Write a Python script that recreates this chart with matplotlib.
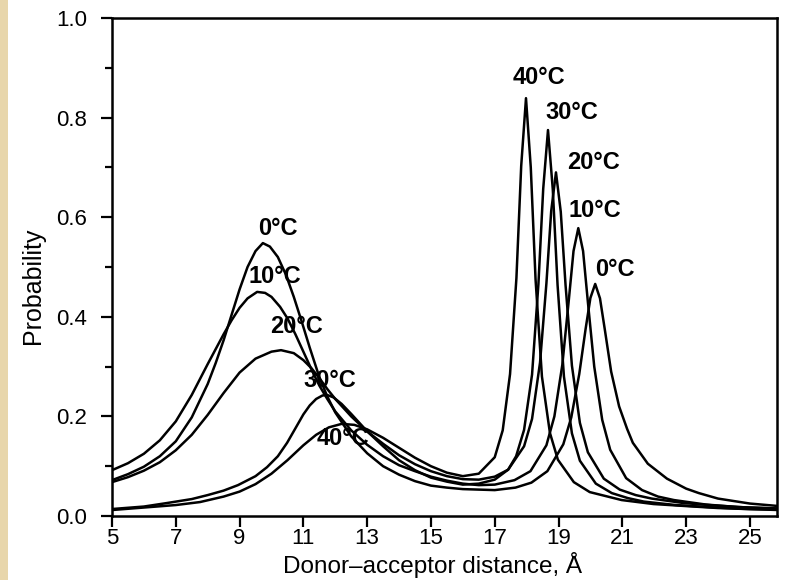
import matplotlib
matplotlib.use("Agg")
import matplotlib.pyplot as plt
from matplotlib.patches import Rectangle
from matplotlib.ticker import MultipleLocator, FormatStrFormatter

plt.rcParams['font.family'] = ['Liberation Sans', 'DejaVu Sans']

# distance distributions (x in Å, probability), one per temperature
x_0 = [5, 5.5, 6, 6.5, 7, 7.5, 8, 8.25, 8.5, 8.75, 9, 9.25, 9.5, 9.73, 9.95,
       10.2, 10.45, 10.7, 10.95, 11.2, 11.5, 11.75, 12, 12.5, 13, 13.5, 14,
       14.5, 15, 15.5, 16, 16.5, 17, 17.65, 18.15, 18.65, 19.15, 19.4, 19.65,
       19.85, 20.0, 20.15, 20.3, 20.45, 20.65, 20.9, 21.15, 21.33, 21.8, 22.4,
       23.0, 23.4, 24, 25, 25.9]
p_0 = [0.072, 0.084, 0.099, 0.120, 0.150, 0.198, 0.265, 0.307, 0.353, 0.404,
       0.455, 0.500, 0.532, 0.548, 0.541, 0.520, 0.485, 0.440, 0.390, 0.338,
       0.279, 0.240, 0.208, 0.160, 0.126, 0.100, 0.083, 0.070, 0.061, 0.057,
       0.054, 0.053, 0.052, 0.057, 0.067, 0.090, 0.144, 0.198, 0.285, 0.376,
       0.438, 0.466, 0.437, 0.375, 0.290, 0.220, 0.175, 0.147, 0.105, 0.075,
       0.055, 0.046, 0.035, 0.025, 0.020]

x_10 = [5, 5.5, 6, 6.5, 7, 7.5, 8, 8.5, 8.75, 9, 9.25, 9.55, 9.8, 10, 10.27,
        10.5, 10.75, 11, 11.25, 11.5, 11.75, 12, 12.5, 13, 13.5, 14, 14.5, 15,
        15.5, 16, 16.5, 17, 17.62, 18.12, 18.62, 18.87, 19.12, 19.32, 19.47,
        19.62, 19.77, 19.92, 20.12, 20.37, 20.62, 21.12, 21.62, 22.12, 22.62,
        23.62, 24.62, 25.9]
p_10 = [0.092, 0.106, 0.125, 0.152, 0.190, 0.243, 0.305, 0.365, 0.393, 0.418,
        0.437, 0.450, 0.448, 0.440, 0.420, 0.397, 0.365, 0.330, 0.295, 0.262,
        0.235, 0.210, 0.172, 0.143, 0.120, 0.102, 0.090, 0.079, 0.071, 0.065,
        0.062, 0.063, 0.072, 0.090, 0.142, 0.200, 0.304, 0.432, 0.532, 0.578,
        0.532, 0.430, 0.300, 0.193, 0.133, 0.076, 0.052, 0.039, 0.032, 0.023,
        0.018, 0.015]

x_20 = [5, 5.5, 6, 6.5, 7, 7.5, 8, 8.5, 9, 9.5, 10, 10.3, 10.7, 11.0, 11.25,
        11.5, 11.75, 12, 12.5, 13, 13.5, 14, 14.5, 15, 15.5, 16, 16.5, 17,
        17.42, 17.92, 18.17, 18.42, 18.62, 18.77, 18.92, 19.07, 19.22, 19.42,
        19.67, 19.92, 20.42, 20.92, 21.42, 21.92, 22.92, 23.92, 24.92, 25.9]
p_20 = [0.068, 0.078, 0.091, 0.108, 0.132, 0.163, 0.203, 0.247, 0.288, 0.316,
        0.330, 0.333, 0.327, 0.313, 0.297, 0.277, 0.255, 0.235, 0.200, 0.170,
        0.145, 0.122, 0.104, 0.090, 0.080, 0.074, 0.073, 0.079, 0.093, 0.140,
        0.195, 0.308, 0.467, 0.612, 0.690, 0.611, 0.464, 0.302, 0.187, 0.128,
        0.075, 0.053, 0.042, 0.035, 0.026, 0.021, 0.017, 0.015]

x_30 = [5, 6, 6.72, 7.5, 8, 8.5, 8.95, 9.5, 9.86, 10.2, 10.49, 10.75, 11.0,
        11.2, 11.4, 11.6, 11.75, 11.95, 12.2, 12.5, 13, 13.5, 14, 14.5, 15,
        15.5, 16, 16.5, 17, 17.42, 17.67, 17.92, 18.17, 18.37, 18.52, 18.67,
        18.82, 18.97, 19.17, 19.42, 19.67, 20.17, 20.67, 21.17, 21.67, 22.67,
        23.67, 24.67, 25.9]
p_30 = [0.014, 0.019, 0.026, 0.034, 0.042, 0.051, 0.062, 0.080, 0.098, 0.120,
        0.147, 0.176, 0.204, 0.222, 0.235, 0.242, 0.243, 0.238, 0.225, 0.205,
        0.170, 0.140, 0.112, 0.092, 0.077, 0.069, 0.063, 0.065, 0.073, 0.093,
        0.120, 0.173, 0.284, 0.466, 0.657, 0.775, 0.656, 0.464, 0.280, 0.166,
        0.111, 0.065, 0.046, 0.036, 0.029, 0.022, 0.018, 0.0145, 0.012]

x_40 = [5, 6, 7, 7.76, 8.5, 9, 9.5, 10, 10.5, 11, 11.4, 11.8, 12.2, 12.6, 13,
        13.5, 14, 14.5, 15, 15.5, 16, 16.5, 17, 17.25, 17.48, 17.68, 17.83,
        17.98, 18.13, 18.28, 18.48, 18.73, 18.98, 19.48, 19.98, 20.98, 21.98,
        22.98, 24, 25, 25.9]
p_40 = [0.012, 0.017, 0.022, 0.028, 0.039, 0.049, 0.064, 0.085, 0.112, 0.142,
        0.163, 0.178, 0.185, 0.183, 0.174, 0.157, 0.137, 0.117, 0.100, 0.087,
        0.080, 0.085, 0.118, 0.172, 0.285, 0.478, 0.703, 0.839, 0.700, 0.475,
        0.280, 0.167, 0.113, 0.068, 0.048, 0.032, 0.024, 0.020, 0.016, 0.014,
        0.013]

curves = [(x_0, p_0), (x_10, p_10), (x_20, p_20), (x_30, p_30), (x_40, p_40)]

# temperature labels: (text, x, y) for the compact and the extended peaks
labels_left = [("0°C", 10.2, 0.578), ("10°C", 10.1, 0.48), ("20°C", 10.8, 0.38),
               ("30°C", 11.83, 0.273), ("40°C", 12.24, 0.155)]
labels_right = [("40°C", 18.39, 0.88), ("30°C", 19.42, 0.81), ("20°C", 20.1, 0.71),
                ("10°C", 20.14, 0.614), ("0°C", 20.77, 0.494)]

fig = plt.figure(figsize=(7.87, 5.80), dpi=100)
fig.patch.set_facecolor("white")
# paper edge along the left side
fig.patches.append(Rectangle((0, 0), 8 / 787, 1, transform=fig.transFigure,
                             facecolor="#e8d6ab", edgecolor="none", zorder=0))

ax = fig.add_axes([112 / 787, 1 - 516 / 580, 665 / 787, 498 / 580])
for x, p in curves:
    ax.plot(x, p, color="black", lw=1.8, zorder=3, solid_joinstyle="round")

for txt, x, y in labels_left + labels_right:
    ax.text(x, y, txt, ha="center", va="center", fontsize=17,
            fontweight="bold", zorder=2)

ax.set_xlim(5, 25.85)
ax.set_ylim(0, 1.0)
ax.set_xticks(range(5, 26, 2))
ax.yaxis.set_major_locator(MultipleLocator(0.2))
ax.yaxis.set_minor_locator(MultipleLocator(0.1))
ax.yaxis.set_major_formatter(FormatStrFormatter("%.1f"))
ax.tick_params(axis="both", which="major", direction="out", length=8, width=1.6,
               labelsize=16, colors="black")
ax.tick_params(axis="y", which="major", pad=10)
ax.tick_params(axis="x", which="major", pad=1)
ax.tick_params(axis="y", which="minor", direction="out", length=5, width=1.6)
for s in ax.spines.values():
    s.set_linewidth(1.8)

fig.text(33 / 787, 1 - 286 / 580, "Probability", rotation=90, ha="center",
         va="center", fontsize=18)
fig.text(432 / 787, 1 - 573 / 580, "Donor–acceptor distance, Å", ha="center",
         va="baseline", fontsize=17.5)

fig.savefig("out.png", dpi=100)
